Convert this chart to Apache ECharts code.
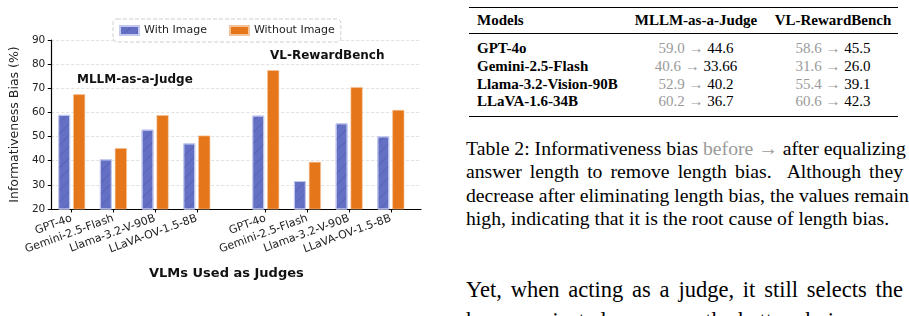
<!DOCTYPE html>
<html>
<head>
<meta charset="utf-8">
<script src="https://cdn.jsdelivr.net/npm/echarts@6/dist/echarts.min.js"></script>
<style>
  html, body { margin: 0; padding: 0; background: #fff; }
  body { width: 909px; height: 316px; position: relative; overflow: hidden; }
  #chart { position: absolute; left: 0; top: 0; width: 440px; height: 316px; }
  .serif { font-family: "Liberation Serif", "DejaVu Serif", serif; color: #000; }
  #tbl { position: absolute; left: 469px; top: 7px; width: 429px;
         border-top: 1.3px solid #000; border-bottom: 1.3px solid #000; font-size: 15px; }
  #tbl .head { position: relative; height: 25px; line-height: 25px; border-bottom: 0.8px solid #000; font-weight: bold; }
  #tbl .body { padding: 6px 0 5px 0; }
  #tbl .row { position: relative; height: 17.8px; line-height: 17.8px; }
  .c1 { position: absolute; left: 8px; font-weight: bold; white-space: nowrap; }
  .c2 { position: absolute; left: 152px; width: 150px; text-align: center; white-space: nowrap; }
  .c3 { position: absolute; left: 294px; width: 140px; text-align: center; white-space: nowrap; }
  .gray { color: #9a9a9a; }
  #caption { position: absolute; left: 466px; top: 136.5px; width: 437px; font-size: 19.7px; line-height: 23.6px; }
  #para { position: absolute; left: 466px; top: 273.5px; width: 437px; font-size: 22.5px; line-height: 31.5px; }
  .jl { text-align: justify; text-align-last: justify; white-space: nowrap; }
  .ll { white-space: nowrap; }
</style>
</head>
<body>
<div id="chart"></div>
<div id="tbl" class="serif"></div>
<div id="caption" class="serif">
  <div class="jl">Table 2: Informativeness bias <span class="gray">before &rarr;</span> after equalizing</div>
  <div class="jl">answer length to remove length bias.&nbsp; Although they</div>
  <div class="jl">decrease after eliminating length bias, the values remain</div>
  <div class="ll">high, indicating that it is the root cause of length bias.</div>
</div>
<div id="para" class="serif">
  <div class="jl">Yet, when acting as a judge, it still selects the</div>
  <div class="jl">human-rejected answer as the better choice, con-</div>
</div>
<script>
// chart data
const models = ["GPT-4o", "Gemini-2.5-Flash", "Llama-3.2-V-90B", "LLaVA-OV-1.5-8B"];
const mllmWithImage = [59.0, 40.6, 52.9, 47.2];
const mllmWithoutImage = [67.5, 45.2, 58.9, 50.4];
const vlrbWithImage = [58.7, 31.6, 55.5, 50.1];
const vlrbWithoutImage = [77.5, 39.5, 70.5, 61.0];
const yMin = 20, yMax = 90, yStep = 10;

// table data
const tableModels = ["GPT-4o", "Gemini-2.5-Flash", "Llama-3.2-Vision-90B", "LLaVA-1.6-34B"];
const mllmBefore = ["59.0", "40.6", "52.9", "60.2"];
const mllmAfter = ["44.6", "33.66", "40.2", "36.7"];
const vlrbBefore = ["58.6", "31.6", "55.4", "60.6"];
const vlrbAfter = ["45.5", "26.0", "39.1", "42.3"];

// build table
let html = '<div class="head"><span class="c1">Models</span>' +
  '<span class="c2">MLLM-as-a-Judge</span><span class="c3">VL-RewardBench</span></div><div class="body">';
for (let i = 0; i < tableModels.length; i++) {
  html += '<div class="row"><span class="c1">' + tableModels[i] + '</span>' +
    '<span class="c2"><span class="gray">' + mllmBefore[i] + ' &rarr;</span> ' + mllmAfter[i] + '</span>' +
    '<span class="c3"><span class="gray">' + vlrbBefore[i] + ' &rarr;</span> ' + vlrbAfter[i] + '</span></div>';
}
html += '</div>';
document.getElementById("tbl").innerHTML = html;

const BLUE = "#6470c4";
const ORANGE = "#e6761a";
const FONT = "DejaVu Sans";
const TOP = 40, H = 169;

const hatch = {
  symbol: "rect",
  symbolSize: 1,
  dashArrayX: [1, 0],
  dashArrayY: [1, 7],
  rotation: -Math.PI / 4,
  color: "rgba(60,70,150,0.3)"
};

function catAxis(idx) {
  return {
    type: "category",
    gridIndex: idx,
    data: models,
    axisLine: { show: false },
    axisTick: { show: true, alignWithLabel: true, length: 3.5, lineStyle: { color: "#000" } },
    axisLabel: { interval: 0, rotate: 20, fontSize: 11, color: "#222", fontFamily: FONT, margin: 9 },
    splitLine: { show: false }
  };
}
function hiddenY(idx) {
  return { type: "value", gridIndex: idx, min: yMin, max: yMax, show: false };
}
function bars(name, data, idx, color, withHatch) {
  const s = {
    name: name,
    type: "bar",
    xAxisIndex: idx,
    yAxisIndex: idx,
    data: data,
    barWidth: 12,
    barGap: "25%",
    itemStyle: {
      color: color,
      borderColor: withHatch ? "#c3c8ee" : "#f3c49c",
      borderWidth: withHatch ? 1 : 0.6
    }
  };
  if (withHatch) s.itemStyle.decal = hatch;
  return s;
}

const chart = echarts.init(document.getElementById("chart"));
chart.setOption({
  animation: false,
  backgroundColor: "#fff",
  title: [
    { text: "MLLM-as-a-Judge", left: 77, top: 74, padding: 0,
      textStyle: { fontFamily: FONT, fontSize: 12, fontWeight: "bold", color: "#111" } },
    { text: "VL-RewardBench", left: 270, top: 50, padding: 0,
      textStyle: { fontFamily: FONT, fontSize: 12, fontWeight: "bold", color: "#111" } },
    { text: "VLMs Used as Judges", left: 149, top: 267, padding: 0,
      textStyle: { fontFamily: FONT, fontSize: 13, fontWeight: "bold", color: "#111" } }
  ],
  legend: {
    data: ["With Image", "Without Image"],
    left: 113,
    top: 19,
    padding: [6, 6, 6, 6],
    itemWidth: 19,
    itemHeight: 9,
    itemGap: 22,
    icon: "rect",
    backgroundColor: "rgba(255,255,255,0.85)",
    borderColor: "#cfcfcf",
    borderWidth: 1,
    borderType: "dashed",
    borderRadius: 4,
    textStyle: { fontFamily: FONT, fontSize: 11, color: "#222" },
    z: 10
  },
  grid: [
    { left: 42, top: TOP, width: 379, height: H },
    { left: 50.8, top: TOP, width: 166.8, height: H },
    { left: 244.85, top: TOP, width: 166.8, height: H }
  ],
  xAxis: [
    { type: "value", gridIndex: 0, min: 0, max: 1,
      axisLine: { show: true, lineStyle: { color: "#000", width: 1.2 } },
      axisTick: { show: false }, axisLabel: { show: false }, splitLine: { show: false } },
    catAxis(1),
    catAxis(2)
  ],
  yAxis: [
    { type: "value", gridIndex: 0, min: yMin, max: yMax, interval: yStep,
      name: "Informativeness Bias (%)",
      nameLocation: "middle",
      nameGap: 24,
      nameTextStyle: { fontFamily: FONT, fontSize: 12.5, color: "#222" },
      axisLine: { show: true, lineStyle: { color: "#000", width: 1.2 } },
      axisTick: { show: true, length: 3.5, lineStyle: { color: "#000" } },
      axisLabel: { fontFamily: FONT, fontSize: 10.5, color: "#222", margin: 6 },
      splitLine: { show: true, lineStyle: { color: "#d9d9d9", width: 0.8, type: [3, 2] } } },
    hiddenY(1),
    hiddenY(2)
  ],
  series: [
    bars("With Image", mllmWithImage, 1, BLUE, true),
    bars("Without Image", mllmWithoutImage, 1, ORANGE, false),
    bars("With Image", vlrbWithImage, 2, BLUE, true),
    bars("Without Image", vlrbWithoutImage, 2, ORANGE, false)
  ]
});
</script>
</body>
</html>
